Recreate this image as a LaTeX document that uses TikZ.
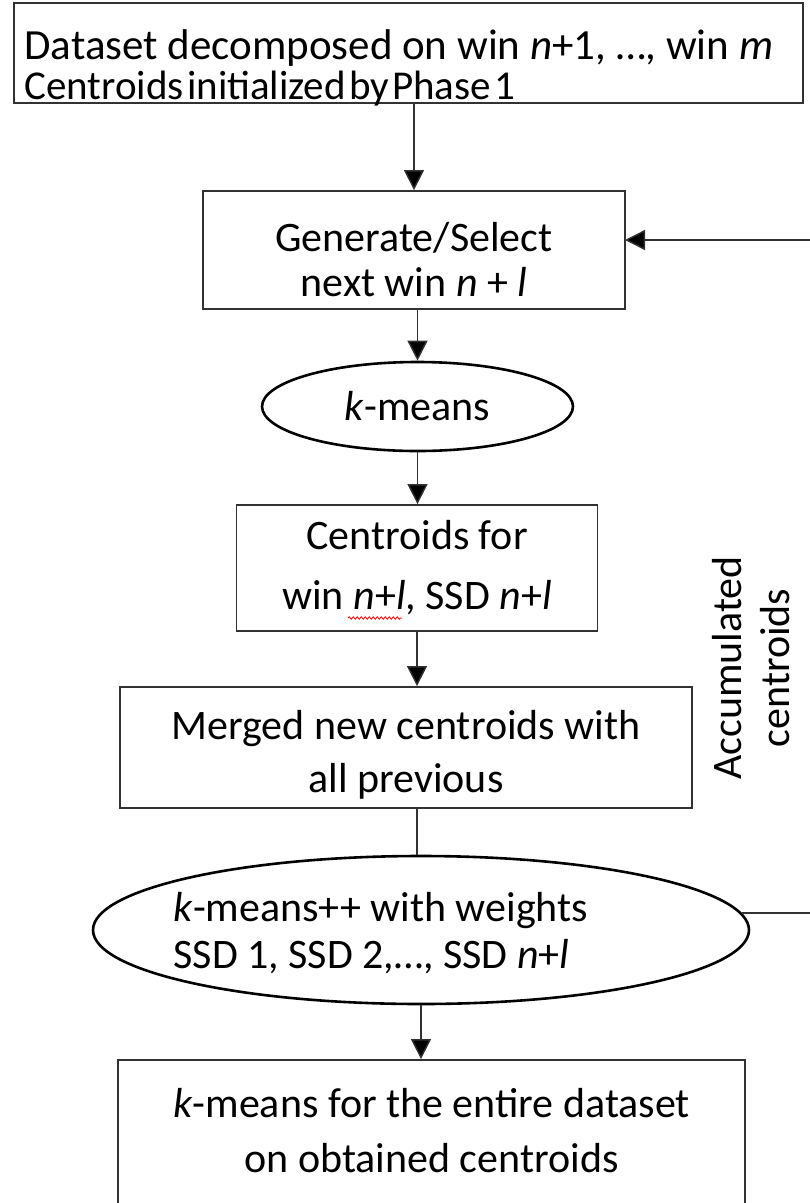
\documentclass[tikz,border=0pt]{standalone}
\usepackage{fontspec}
\setmainfont{Carlito}
\newfontfamily\tightfont{Carlito}[WordSpace=0.35]
\usetikzlibrary{shapes.geometric,arrows.meta,decorations.pathmorphing}
\definecolor{linegray}{RGB}{50,50,50}

\begin{document}
\begin{tikzpicture}[x=1pt, y=-1pt,
  box/.style={
    draw=linegray, line width=1.8pt, align=center, inner sep=0pt
  },
  oval/.style={ellipse, draw=black, line width=2.6pt, inner sep=0pt},
  txt/.style={font=\fontsize{42}{#1}\selectfont},
  arr/.style={-{Triangle[length=20pt,width=20pt,fill=black]}, line width=1.4pt, linegray},
  link/.style={line width=1.4pt, linegray}
]
\useasboundingbox (0,0) rectangle (810,1203);
\clip (0,0) rectangle (810,1203);

%% ── INPUT ──
\node[box, minimum width=789pt, minimum height=100pt] (data) at (408.5,53) {};
\node[anchor=west, align=left, txt=40] (datatext) at (21,68)
  {\fontsize{43}{40}\selectfont Dataset decomposed on win \textit{n}+1, …, win \textit{m}\\
   \tightfont\fontsize{41}{40}\selectfont Centroids initialized by Phase 1};

%% ── WINDOW LOOP ──
\node[box, minimum width=422pt, minimum height=118pt, txt=45] (gen) at (414,250)
  {\rule{0pt}{48pt}Generate/Select\\ next win \textit{n} + \textit{l}};
\node[oval, minimum width=311pt, minimum height=89pt, txt=45] (km) at (417.5,406.5)
  {\textit{k}-means};
\node[box, minimum width=361pt, minimum height=126pt, txt=60] (cent) at (417,568)
  {Centroids for\\ win \textit{n}+\textit{l}, SSD \textit{n}+\textit{l}};
\node[box, minimum width=572pt, minimum height=121pt, txt=53] (merge) at (406,747.5)
  {\rule{0pt}{44pt}Merged new centroids with\\ all previous};
\node[oval, minimum width=656pt, minimum height=148pt] (kmpp) at (421,930) {};
\node[anchor=west, align=left, txt=47] (kmpptext) at (170,933)
  {\textit{k}-means++ with weights\\ SSD 1, SSD 2,…, SSD \textit{n}+\textit{l}};

%% ── OUTPUT ──
\node[box, minimum width=627pt, minimum height=155pt, txt=55] (final) at (431.5,1137.5)
  {\textit{k}-means for the entire dataset\\ on obtained centroids\rule[-14pt]{0pt}{1pt}};

\node[rotate=90, align=center, txt=48] (acc) at (751,668)
  {Accumulated\\ centroids};

%% ── ARROWS ──
\draw[arr] (gen.north |- data.south) -- (gen.north);
\draw[arr] (km.north |- gen.south) -- (km.north);
\draw[arr] (km.south) -- (km.south |- cent.north);
\draw[arr] (cent.south) -- (cent.south |- merge.north);
\draw[link] (cent.south |- merge.south) -- (cent.south |- kmpp.north);
\draw[arr] (kmpp.south) -- (kmpp.south |- final.north);

%% ── FEEDBACK ──
\coordinate (fbin) at (625,240);
\draw[arr] (kmpp.3.5) -- ++(120,0) |- (fbin);

%% spell-check mark
\draw[red, line width=0.8pt, decorate,
  decoration={snake, amplitude=1.2pt, segment length=4pt}] (348,618) -- (402,618);
\end{tikzpicture}
\end{document}
